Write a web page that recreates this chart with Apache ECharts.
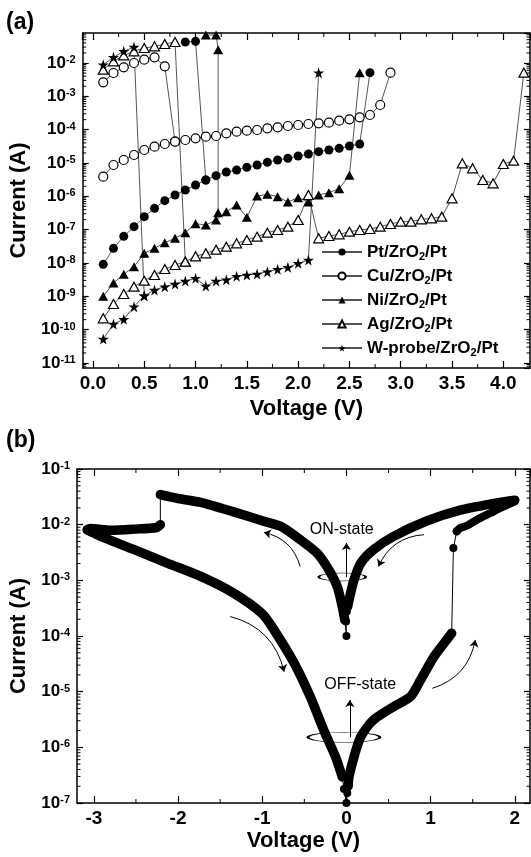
<!DOCTYPE html>
<html><head><meta charset="utf-8">
<script src="https://cdn.jsdelivr.net/npm/echarts@6/dist/echarts.min.js"></script>
<style>html,body{margin:0;padding:0;background:#fff}#c{width:531px;height:857px}</style>
</head><body><div id="c"></div>
<script>
// ===== Panel (a): voltage steps (V) and log10(current/A) =====
const vSteps = [0.1,0.2,0.3,0.4,0.5,0.6,0.7,0.8,0.9,1.0,1.1,1.2,1.3,1.4,1.5,1.6,1.7,1.8,1.9,2.0,2.1,2.2,2.3,2.4,2.5,2.6,2.7,2.8,2.9,3.0,3.1,3.2,3.3,3.4,3.5,3.6,3.7,3.8,3.9,4.0,4.1,4.2];
const ptOffLogI = [-8.04,-7.56,-7.2,-6.91,-6.61,-6.36,-6.13,-5.96,-5.81,-5.66,-5.51,-5.38,-5.27,-5.21,-5.13,-5.06,-4.98,-4.91,-4.86,-4.79,-4.73,-4.66,-4.61,-4.56,-4.49,-4.43,-2.29];
const cuOffLogI = [-5.41,-5.06,-4.91,-4.76,-4.61,-4.51,-4.43,-4.36,-4.31,-4.26,-4.21,-4.19,-4.11,-4.06,-4.03,-4.01,-3.96,-3.93,-3.89,-3.86,-3.83,-3.81,-3.79,-3.73,-3.69,-3.63,-3.56,-3.26,-2.29];
const niOffLogI = [-9.0,-8.6,-8.34,-8.11,-7.71,-7.56,-7.39,-7.26,-7.09,-6.82,-6.86,-6.71,-6.46,-6.26,-6.63,-5.99,-5.94,-6.01,-6.17,-6.04,-6.17,-5.96,-5.89,-5.77,-5.37,-2.29];
const agOffLogI = [-9.66,-9.23,-8.93,-8.71,-8.53,-8.36,-8.18,-8.06,-7.96,-7.8,-7.71,-7.6,-7.51,-7.41,-7.31,-7.21,-7.09,-7.01,-6.91,-6.71,-5.96,-7.26,-7.19,-7.14,-7.06,-7.01,-6.98,-6.91,-6.83,-6.76,-6.76,-6.69,-6.66,-6.61,-6.06,-5.01,-5.16,-5.51,-5.61,-5.03,-4.93,-2.29];
const wOffLogI  = [-10.28,-9.83,-9.69,-9.31,-8.98,-8.81,-8.71,-8.63,-8.54,-8.46,-8.69,-8.54,-8.5,-8.4,-8.36,-8.33,-8.26,-8.19,-8.13,-8.01,-7.91,-2.29];
// ON-state branches (end with the point they drop to)
const ptOnV = [0.9,1.0,1.1];           const ptOnLogI = [-1.37,-1.35,-5.51];
const cuOnV = [0.1,0.2,0.3,0.4,0.5,0.6,0.7,0.8]; const cuOnLogI = [-2.58,-2.3,-2.13,-2.0,-1.9,-1.83,-2.1,-4.36];
const niOnV = [1.1,1.2,1.22,1.22];     const niOnLogI = [-1.16,-1.16,-1.6,-6.49];
const agOnV = [0.1,0.2,0.3,0.4,0.5,0.6,0.7,0.8,0.9]; const agOnLogI = [-2.2,-1.95,-1.77,-1.65,-1.55,-1.5,-1.43,-1.37,-7.96];
const wOnV  = [0.1,0.2,0.3,0.4,0.5];   const wOnLogI = [-2.05,-1.83,-1.65,-1.52,-8.98];
const deviceNames = ['Pt/ZrO2/Pt','Cu/ZrO2/Pt','Ni/ZrO2/Pt','Ag/ZrO2/Pt','W-probe/ZrO2/Pt'];

// ===== Panel (b): voltage (V) and log10(current/A) =====
const bOffPosV = [0.02,0.03,0.09,0.17,0.32,0.56,0.76,0.88,1.04,1.19,1.25];
const bOffPosL = [-6.7,-6.53,-6.17,-5.81,-5.51,-5.27,-5.09,-4.79,-4.37,-4.07,-3.95];
const bSetV = [1.25,1.27,1.31];        const bSetL = [-3.95,-2.42,-2.12];
const bOnUpV = [1.31,1.35,1.43,1.55,1.71,1.83,2.0];
const bOnUpL = [-2.12,-2.06,-2.02,-1.91,-1.79,-1.70,-1.58];
const bOnDownV = [2.0,1.75,1.35,0.96,0.56,0.32,0.17,0.09,0.04,0.015];
const bOnDownL = [-1.56,-1.62,-1.74,-1.93,-2.21,-2.45,-2.69,-2.99,-3.29,-3.47];
const bZeroOnV = [0.015,0.005,-0.005,0.0,-0.02];
const bZeroOnL = [-3.47,-3.56,-3.74,-4.0,-3.71];
const bOnNegV = [-0.02,-0.05,-0.11,-0.21,-0.35,-0.55,-0.78,-1.0,-1.34,-1.73,-2.0,-2.21];
const bOnNegL = [-3.71,-3.47,-3.11,-2.81,-2.51,-2.27,-2.03,-1.93,-1.77,-1.6,-1.53,-1.46];
const bResetV = [-2.21,-2.21];         const bResetL = [-1.46,-2.0];
const bOffNegV = [-2.21,-2.25,-2.52,-2.8,-3.04,-3.08,-3.0,-2.92,-2.52,-2.13,-1.73,-1.34,-1.0,-0.86,-0.62,-0.43,-0.27,-0.13,-0.05];
const bOffNegL = [-2.0,-2.05,-2.08,-2.1,-2.07,-2.09,-2.15,-2.21,-2.45,-2.69,-2.93,-3.23,-3.6,-3.89,-4.49,-5.09,-5.69,-6.17,-6.53];
const bZeroOffV = [-0.05,-0.03,0.0,0.01,0.02];
const bZeroOffL = [-6.53,-6.75,-7.0,-6.82,-6.7];

// annotations (data coordinates)
const onLabel = [-0.05,-2.10], offLabel = [0.17,-4.89];
const onRing = [-0.05,-2.94], offRing = [-0.03,-5.82];
const onArrow = [[0.0,-2.94],[0.0,-2.33]], offArrow = [[0.04,-5.82],[0.04,-5.15]];
const sweepArrows = [
  [[-0.55,-2.75],[-0.98,-2.14],-0.3],
  [[0.92,-2.18],[0.38,-2.75],-0.3],
  [[-1.38,-3.65],[-0.74,-4.64],0.3],
  [[1.02,-4.94],[1.53,-4.07],-0.3]
];

// ===== axis ranges =====
const aX = [-0.1, 4.26], aY = [-11.15, -1.1];
const bX = [-3.2, 2.18], bY = [-7, -1];
const aXMinor = [0.25,0.75,1.25,1.75,2.25,2.75,3.25,3.75];
const bXMinor = [-2.5,-1.5,-0.5,0.5,1.5];

const FONT = 'Liberation Sans';
const pairs = (v, l) => v.map((x, i) => [x, l[i]]);
function logMinors(r) {
  const out = [];
  for (let n = Math.floor(r[0]); n < Math.ceil(r[1]); n++)
    for (let k = 2; k <= 9; k++) { const v = n + Math.log10(k); if (v > r[0] && v < r[1]) out.push(v); }
  return out;
}

const STAR = 'path://M50,0 L61,35 L98,35 L68,57 L79,91 L50,70 L21,91 L32,57 L2,35 L39,35 Z';
const devStyle = [
  {symbol:'circle', size:9, fill:'#000'},
  {symbol:'circle', size:9, fill:'#fff'},
  {symbol:'triangle', size:[10,9], fill:'#000'},
  {symbol:'triangle', size:[10,9], fill:'#fff'},
  {symbol:STAR, size:11, fill:'#000'}
];
const offSets = [ptOffLogI, cuOffLogI, niOffLogI, agOffLogI, wOffLogI];
const onSets = [[ptOnV,ptOnLogI],[cuOnV,cuOnLogI],[niOnV,niOnLogI],[agOnV,agOnLogI],[wOnV,wOnLogI]];

function devSeries(i, data) {
  const s = devStyle[i];
  return {type:'line', name:deviceNames[i], xAxisIndex:0, yAxisIndex:0, data,
    symbol:s.symbol, symbolSize:s.size, showAllSymbol:true, animation:false,
    lineStyle:{color:'#555', width:1},
    itemStyle:{color:s.fill, borderColor:'#000', borderWidth: s.fill === '#fff' ? 1.2 : 0},
    emphasis:{disabled:true}, z:3};
}
const series = [];
for (let i = 0; i < 5; i++) series.push(devSeries(i, pairs(vSteps.slice(0, offSets[i].length), offSets[i])));
for (let i = 0; i < 5; i++) series.push(devSeries(i, pairs(onSets[i][0], onSets[i][1])));

function tickSeries(xi, yi, xr, yr, xMinors, yMinors) {
  const data = yMinors.map(v => [xr[0], v, 0]).concat(xMinors.map(v => [v, yr[0], 1]));
  return {type:'custom', xAxisIndex:xi, yAxisIndex:yi, silent:true, animation:false, data, z:1,
    renderItem(params, api) {
      const cs = params.coordSys, p = api.coord([api.value(0), api.value(1)]);
      const st = {stroke:'#000', lineWidth:1};
      if (api.value(2) === 0) return {type:'group', children:[
        {type:'line', shape:{x1:cs.x, y1:p[1], x2:cs.x+3.5, y2:p[1]}, style:st},
        {type:'line', shape:{x1:cs.x+cs.width, y1:p[1], x2:cs.x+cs.width-3.5, y2:p[1]}, style:st}]};
      return {type:'group', children:[
        {type:'line', shape:{x1:p[0], y1:cs.y+cs.height, x2:p[0], y2:cs.y+cs.height-4}, style:st},
        {type:'line', shape:{x1:p[0], y1:cs.y, x2:p[0], y2:cs.y+4}, style:st}]};
    }};
}
series.push(tickSeries(0, 0, aX, aY, aXMinor, logMinors(aY)));
series.push(tickSeries(2, 2, bX, bY, bXMinor, logMinors(bY)));

// panel (b) curves
function thick(v, l, w) {
  return {type:'line', xAxisIndex:2, yAxisIndex:2, data:pairs(v, l), symbol:'none', smooth:0.25,
    animation:false, lineStyle:{color:'#000', width:w || 9.5, cap:'round', join:'round'}, z:3, silent:true};
}
function dotted(v, l) {
  return {type:'line', xAxisIndex:2, yAxisIndex:2, data:pairs(v, l), symbol:'circle', symbolSize:8,
    showAllSymbol:true, animation:false, lineStyle:{color:'#000', width:1}, itemStyle:{color:'#000'}, z:3, silent:true};
}
series.push(thick(bOffPosV, bOffPosL));
series.push(dotted(bSetV, bSetL));
series.push(thick(bOnUpV, bOnUpL, 8));
series.push(thick(bOnDownV, bOnDownL));
series.push(dotted(bZeroOnV, bZeroOnL));
series.push(thick(bOnNegV, bOnNegL));
series.push(dotted(bResetV, bResetL));
series.push(thick(bOffNegV, bOffNegL));
series.push(dotted(bZeroOffV, bZeroOffL));

// annotations
series.push({type:'scatter', xAxisIndex:2, yAxisIndex:2, silent:true, animation:false, z:1,
  data:[{value:onRing, symbolSize:[47,8]}, {value:offRing, symbolSize:[72,10]}],
  symbol:'circle', itemStyle:{color:'rgba(0,0,0,0)', borderColor:'#000', borderWidth:1.2, opacity:1}});
series.push({type:'lines', coordinateSystem:'cartesian2d', xAxisIndex:2, yAxisIndex:2, silent:true, animation:false, z:4,
  symbol:['none','arrow'], symbolSize:7,
  lineStyle:{color:'#000', width:1, opacity:1},
  data:[{coords:onArrow}, {coords:offArrow}].concat(sweepArrows.map(a => ({coords:[a[0], a[1]], lineStyle:{curveness:a[2]}})))});
series.push({type:'scatter', xAxisIndex:2, yAxisIndex:2, silent:true, animation:false, z:5,
  symbolSize:1, itemStyle:{color:'rgba(0,0,0,0)'},
  label:{show:true, position:[0,0], align:'center', verticalAlign:'middle', fontFamily:FONT, fontSize:16,
    color:'#000', opacity:1, textBorderWidth:0, formatter:p => p.name},
  data:[{name:'ON-state', value:onLabel}, {name:'OFF-state', value:offLabel}]});

const bold = {fontFamily:FONT, fontWeight:'bold', color:'#000'};
const supRich = {b:{...bold, fontSize:17}, s:{...bold, fontSize:11, verticalAlign:'top'}};
function xAx(grid, r, split, pos, labelFmt, nameGap) {
  const main = pos === 'bottom';
  return {type:'value', gridIndex:grid, min:r[0], max:r[1], splitNumber:split, position:pos,
    axisLine:{onZero:false, lineStyle:{color:'#000', width:1.5}},
    axisTick:{inside:true, length:7, lineStyle:{color:'#000', width:1.2}},
    splitLine:{show:false},
    axisLabel:{show:main, ...bold, fontSize:19, margin:6, showMinLabel:false, showMaxLabel:false, formatter:labelFmt},
    name: main ? 'Voltage (V)' : '', nameLocation:'middle', nameGap, nameTextStyle:{...bold, fontSize:22}};
}
function yAx(grid, r, split, pos, nameGap, showEnds) {
  const main = pos === 'left';
  return {type:'value', gridIndex:grid, min:r[0], max:r[1], splitNumber:split, position:pos,
    axisLine:{onZero:false, lineStyle:{color:'#000', width:1.5}},
    axisTick:{inside:true, length:6, lineStyle:{color:'#000', width:1.2}},
    splitLine:{show:false},
    axisLabel:{show:main, margin:7, showMinLabel:showEnds, showMaxLabel:showEnds,
      formatter:v => '{b|10}{s|' + Math.round(v) + '}', rich:supRich},
    name: main ? 'Current (A)' : '', nameLocation:'middle', nameGap, nameTextStyle:{...bold, fontSize:22}};
}

const chart = echarts.init(document.getElementById('c'), null, {renderer:'canvas'});
chart.setOption({
  backgroundColor:'#fff',
  animation:false,
  title:[
    {text:'(a)', left:6, top:11, padding:0, textStyle:{...bold, fontSize:23}},
    {text:'(b)', left:6, top:429, padding:0, textStyle:{...bold, fontSize:23}}
  ],
  grid:[
    {left:77, top:33, width:453, height:335},
    {left:76, top:469, width:454, height:334}
  ],
  xAxis:[
    xAx(0, aX, 9, 'bottom', v => v.toFixed(1), 30),
    xAx(0, aX, 9, 'top', null, 0),
    xAx(1, bX, 5, 'bottom', v => String(Math.round(v)), 27),
    xAx(1, bX, 5, 'top', null, 0)
  ],
  yAxis:[
    yAx(0, aY, 10, 'left', 47, false),
    yAx(0, aY, 10, 'right', 0, false),
    yAx(1, bY, 6, 'left', 47, true),
    yAx(1, bY, 6, 'right', 0, true)
  ],
  legend:{data:deviceNames, orient:'vertical', left:321, top:242, itemWidth:40, itemHeight:9, itemGap:4,
    selectedMode:false, padding:0,
    textStyle:{...bold, fontSize:17, lineHeight:20, rich:{s:{...bold, fontSize:11, verticalAlign:'bottom'}}},
    formatter:n => n.replace('ZrO2', 'ZrO{s|2}')},
  series
});
</script>
</body></html>
